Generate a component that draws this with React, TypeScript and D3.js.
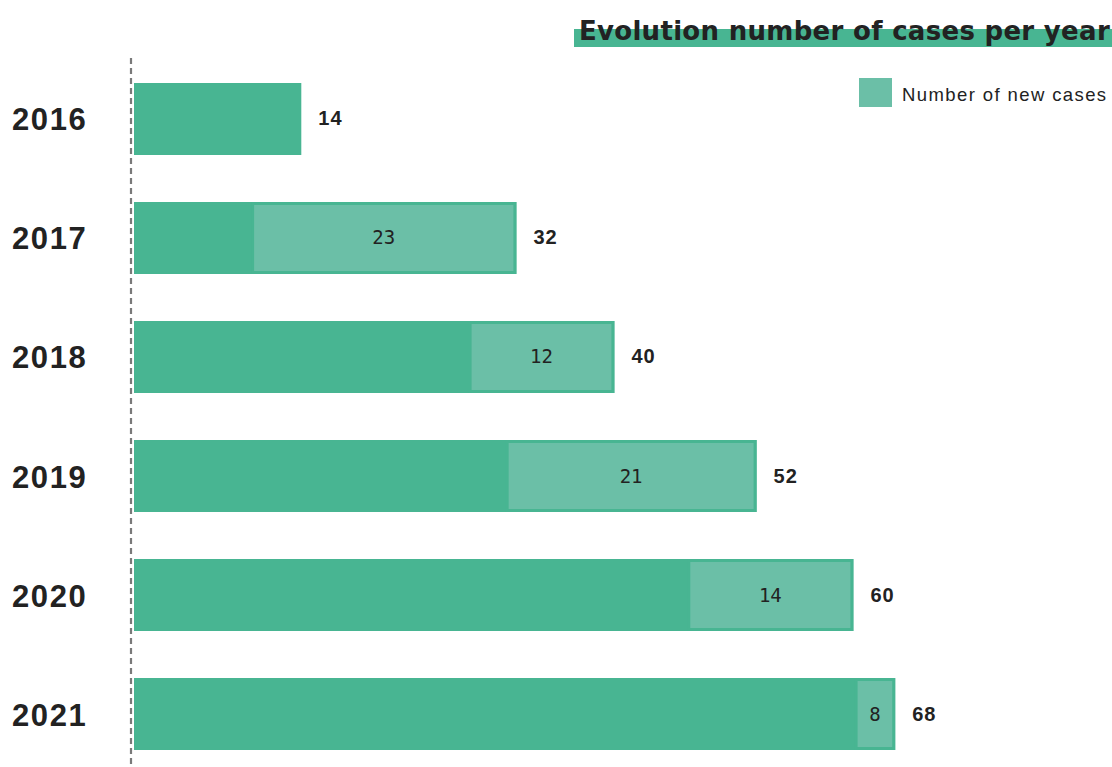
import React from "react";
import * as d3 from "d3";

const years = ["2016", "2017", "2018", "2019", "2020", "2021"];
// End of the dark (existing cases) segment
const baseEnd = [14, 9.8, 28.0, 31.1, 46.3, 60.3];
// End of the whole bar
const barEnd = [14, 32, 40.2, 52.1, 60.2, 63.7];
// Labels printed in the light segment (new cases)
const newCases = [null, 23, 12, 21, 14, 8];
// Labels printed after the bar (totals)
const totals = [14, 32, 40, 52, 60, 68];

const W = 1112;
const H = 767;
const DARK = "#48b592";
const LIGHT = "#6bbfa7";
const TEXT = "#222222";

export default function App() {
  const x = d3.scaleLinear().domain([0, 68]).range([134, 134 + 68 * 11.95]);
  const y = d3
    .scaleBand()
    .domain(years)
    .range([83, 750])
    .paddingInner(0.395)
    .paddingOuter(0);
  const bh = y.bandwidth();

  return (
    <svg
      width={W}
      height={H}
      style={{ position: "absolute", left: 0, top: 0, background: "#fff" }}
      fontFamily="'Liberation Sans', Arial, sans-serif"
    >
      {/* title */}
      <rect x={574} y={29} width={W - 574} height={18} fill={DARK} />
      <text
        x={1110}
        y={40}
        textAnchor="end"
        fontSize={26}
        fontWeight="bold"
        fontFamily="'DejaVu Sans', sans-serif"
        letterSpacing={0.3}
        fill={TEXT}
      >
        Evolution number of cases per year
      </text>

      {/* legend */}
      <rect x={859} y={78} width={33} height={29} fill={LIGHT} />
      <text x={902} y={101} fontSize={18.5} letterSpacing={1.4} fill={TEXT}>
        Number of new cases
      </text>

      {/* dashed axis */}
      <line
        x1={131}
        x2={131}
        y1={58}
        y2={767}
        stroke="#7a7a7a"
        strokeWidth={2.2}
        strokeDasharray="6 4"
      />

      {years.map((yr, i) => {
        const y0 = y(yr)!;
        const cy = y0 + bh / 2;
        const xb = x(baseEnd[i]);
        const xe = x(barEnd[i]);
        const hasNew = newCases[i] !== null;
        return (
          <g key={yr}>
            <text
              x={12}
              y={cy + 11.5}
              fontSize={31}
              fontWeight="bold"
              letterSpacing={1.6}
              fill={TEXT}
            >
              {yr}
            </text>
            <rect x={x(0)} y={y0} width={xe - x(0)} height={bh} fill={DARK} />
            {hasNew && (
              <>
                <rect
                  x={xb + 1.5}
                  y={y0 + 1.5}
                  width={xe - xb - 3}
                  height={bh - 3}
                  fill={LIGHT}
                  stroke={DARK}
                  strokeWidth={3}
                />
                <text
                  x={(xb + xe) / 2}
                  y={cy + 6.5}
                  textAnchor="middle"
                  fontSize={19}
                  fontFamily="'DejaVu Sans Mono', 'Liberation Mono', monospace"
                  fill={TEXT}
                >
                  {newCases[i]}
                </text>
              </>
            )}
            <text
              x={xe + 17}
              y={cy + 6.5}
              fontSize={20}
              fontWeight="bold"
              letterSpacing={1}
              fill={TEXT}
            >
              {totals[i]}
            </text>
          </g>
        );
      })}
    </svg>
  );
}
